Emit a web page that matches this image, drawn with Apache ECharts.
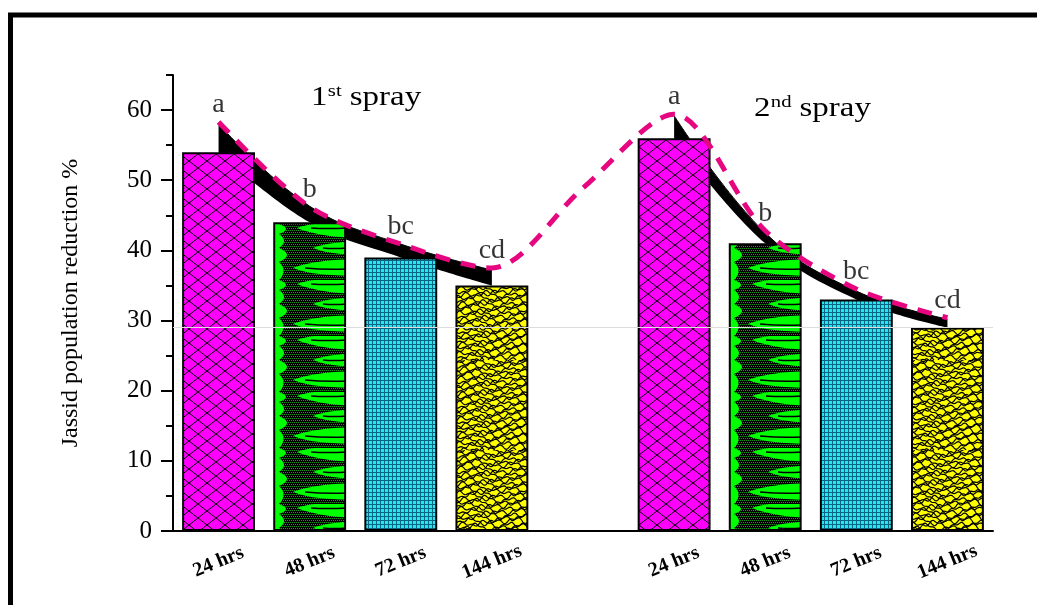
<!DOCTYPE html>
<html>
<head>
<meta charset="utf-8">
<script src="https://cdn.jsdelivr.net/npm/echarts@6/dist/echarts.min.js"></script>
<style>
  html, body { margin: 0; padding: 0; background: #fff; }
  #chart { width: 1037px; height: 605px; }
</style>
</head>
<body>
<div id="chart"></div>
<script>
// categories (empty slot separates the two sprays)
var categories = ['24 hrs', '48 hrs', '72 hrs', '144 hrs', '', '24 hrs', '48 hrs', '72 hrs', '144 hrs'];
// bar values, % reduction
var reduction = [54, 44, 39, 35, '-', 56, 41, 33, 29];
// top of the black band
var bandTop = [58, 46.3, 40.9, 37.2, '-', 59.2, 42.5, 34.2, 30.2];
// pink dashed trend line
var trend = [58.3, 46.2, 40.9, 37.5, 48.9, 59.4, 42.8, 34.5, 30.4];
// significance letters
var letters = ['a', 'b', 'bc', 'cd', '', 'a', 'b', 'bc', 'cd'];
var yTicks = [0, 10, 20, 30, 40, 50, 60];
var yMinor = [5, 15, 25, 35, 45, 55, 65];
var refLine = 29;

var serif = '"Liberation Serif", "Times New Roman", serif';

// ---- fill patterns ----
function makeCanvas(w, h) {
  var c = document.createElement('canvas');
  c.width = w; c.height = h;
  return c;
}
function crossHatch() {
  var c = makeCanvas(18, 14), g = c.getContext('2d');
  g.fillStyle = '#ff00ff'; g.fillRect(0, 0, 18, 14);
  g.strokeStyle = '#000'; g.lineWidth = 1;
  g.beginPath();
  g.moveTo(0, 0); g.lineTo(18, 14);
  g.moveTo(18, 0); g.lineTo(0, 14);
  g.stroke();
  return c;
}
function greenWaves() {
  var w = 91, h = 56;
  var c = makeCanvas(w, h), g = c.getContext('2d');
  g.fillStyle = '#000'; g.fillRect(0, 0, w, h);
  g.fillStyle = '#129a12';
  for (var x = 0; x < w; x += 2) {
    for (var y = 0; y < h; y += 2) g.fillRect(x + ((y / 2) % 2), y, 1, 1);
  }
  g.fillStyle = '#00ff00';
  // left edge strip with rounded bumps
  g.beginPath();
  g.moveTo(0, 0); g.lineTo(6, 0);
  g.quadraticCurveTo(20, 5, 6, 10);
  g.quadraticCurveTo(16, 17, 6, 24);
  g.quadraticCurveTo(22, 31, 6, 38);
  g.quadraticCurveTo(15, 47, 6, 56);
  g.lineTo(0, 56); g.closePath(); g.fill();
  // long tongues coming in from the right edge
  function tongue(y0, y1, tip, tipY) {
    g.beginPath();
    g.moveTo(w, y0);
    g.bezierCurveTo(tip + 35, y0, tip + 12, tipY - 5, tip, tipY);
    g.bezierCurveTo(tip + 14, tipY + 6, tip + 38, y1, w, y1);
    g.closePath(); g.fill();
  }
  tongue(-2, 14, 24, 4);
  tongue(17, 31, 40, 24);
  tongue(35, 52, 20, 44);
  g.strokeStyle = '#000'; g.lineWidth = 1.5;
  g.beginPath();
  g.moveTo(74, 4); g.quadraticCurveTo(54, 5, 38, 4);
  g.moveTo(74, 24); g.quadraticCurveTo(60, 25, 50, 24);
  g.moveTo(74, 45); g.quadraticCurveTo(52, 46, 32, 44);
  g.stroke();
  return c;
}
function cyanGrid() {
  var c = makeCanvas(4, 4), g = c.getContext('2d');
  g.fillStyle = '#24e8f0'; g.fillRect(0, 0, 4, 4);
  g.fillStyle = '#0c6482';
  g.fillRect(0, 0, 1, 4);
  g.fillRect(0, 0, 4, 1);
  return c;
}
function yellowMarble() {
  var w = 90, h = 90;
  var c = makeCanvas(w, h), g = c.getContext('2d');
  var k = 2 * Math.PI / w;
  g.fillStyle = '#ffff00'; g.fillRect(0, 0, w, h);
  g.strokeStyle = '#000'; g.lineWidth = 1.2;
  for (var i = -2; i < 32; i++) {
    var y0 = i * 3.1;
    var ph1 = (i * 2.39996) % (2 * Math.PI);
    var ph2 = (i * 1.61803 * 3) % (2 * Math.PI);
    g.beginPath();
    for (var x = 0; x <= w; x += 1) {
      var y = y0 + 2.2 * Math.sin(4 * k * x + ph1) +
              1.3 * Math.sin(9 * k * x + ph2) +
              1.5 * Math.sin(2 * k * x + ph1 * 0.5);
      if (x === 0) g.moveTo(x, y); else g.lineTo(x, y);
    }
    g.stroke();
  }
  return c;
}

var pMag = { image: crossHatch(), repeat: 'repeat' };
var pGreen = { image: greenWaves(), repeat: 'repeat' };
var pCyan = { image: cyanGrid(), repeat: 'repeat' };
var pYellow = { image: yellowMarble(), repeat: 'repeat' };
var fills = [pMag, pGreen, pCyan, pYellow, null, pMag, pGreen, pCyan, pYellow];

var bandDiff = reduction.map(function (v, i) {
  return v === '-' ? '-' : +(bandTop[i] - v).toFixed(2);
});

var chart = echarts.init(document.getElementById('chart'));

// "1st spray" / "2nd spray" with raised ordinal suffix
function sprayTitle(x, y, num, suffix) {
  var big = { fontFamily: serif, fontSize: 27, fill: '#000', verticalAlign: 'top' };
  var small = { fontFamily: serif, fontSize: 17, fill: '#000', verticalAlign: 'top' };
  var sufW = suffix === 'st' ? 11.5 : 17;
  return {
    type: 'group', x: x, y: y, scaleX: 1.22, z: 100,
    children: [
      { type: 'text', x: 0, y: 0, style: Object.assign({ text: num }, big) },
      { type: 'text', x: 13.8, y: -1, style: Object.assign({ text: suffix }, small) },
      { type: 'text', x: 13.8 + sufW + 6.5, y: 0, style: Object.assign({ text: 'spray' }, big) }
    ]
  };
}

var option = {
  backgroundColor: '#fff',
  animation: false,
  grid: [
    { left: 173, right: 44, top: 75, bottom: 74 },
    { left: 173, right: 44, top: 75, bottom: 74 }
  ],
  xAxis: [
    {
      type: 'category', gridIndex: 0, data: categories,
      axisLine: { lineStyle: { color: '#000', width: 2 } },
      axisTick: { alignWithLabel: true, length: 9, lineStyle: { color: '#000', width: 2 } },
      axisLabel: {
        interval: 0, rotate: 22, align: 'center', verticalAlign: 'middle', margin: 31,
        color: '#000', fontFamily: serif, fontWeight: 'bold', fontSize: 20
      }
    },
    {
      type: 'category', gridIndex: 1, data: categories,
      axisLine: { show: false },
      axisTick: { length: 5, lineStyle: { color: '#000', width: 2 } },
      axisLabel: { show: false }
    }
  ],
  yAxis: [
    {
      type: 'value', gridIndex: 0, min: 0, max: 65,
      name: 'Jassid population reduction %', nameLocation: 'middle', nameGap: 90,
      nameTextStyle: { color: '#000', fontFamily: serif, fontSize: 24 },
      axisLine: { show: true, lineStyle: { color: '#000', width: 2 } },
      axisTick: { show: true, customValues: yTicks, length: 12, lineStyle: { color: '#000', width: 2 } },
      axisLabel: { customValues: yTicks, margin: 21, color: '#000', fontFamily: serif, fontSize: 25 },
      splitLine: { show: false }
    },
    {
      type: 'value', gridIndex: 1, min: 0, max: 65, position: 'left',
      axisLine: { show: false },
      axisTick: { show: true, customValues: yMinor, length: 7, lineStyle: { color: '#000', width: 2 } },
      axisLabel: { show: false },
      splitLine: { show: false }
    }
  ],
  graphic: [
    {
      type: 'rect', z: 100, silent: true,
      shape: { x: 10.5, y: 15, width: 1200, height: 800 },
      style: { fill: null, stroke: '#000', lineWidth: 5 }
    },
    sprayTitle(311, 84, '1', 'st'),
    sprayTitle(754, 95, '2', 'nd')
  ],
  series: [
    {
      name: 'base', type: 'line', stack: 'band', data: reduction,
      smooth: 0.4, symbol: 'none', z: 1,
      lineStyle: { width: 0, opacity: 0 },
      markLine: {
        silent: true, symbol: 'none', label: { show: false },
        lineStyle: { color: '#dcdcdc', width: 1, type: 'solid' },
        data: [{ yAxis: refLine }]
      }
    },
    {
      name: 'band', type: 'line', stack: 'band', data: bandDiff,
      smooth: 0.4, symbol: 'none', z: 1,
      lineStyle: { color: '#000', width: 1 },
      areaStyle: { color: '#000', opacity: 1 }
    },
    {
      name: 'reduction', type: 'bar', data: reduction.map(function (v, i) {
        return { value: v, itemStyle: { color: fills[i] } };
      }),
      barWidth: '80%', z: 3,
      itemStyle: { borderColor: '#000', borderWidth: 2 }
    },
    {
      name: 'trend', type: 'line', data: trend, smooth: 0.3, symbol: 'none', z: 4,
      lineStyle: { color: '#e6067f', width: 5, type: [15, 11] }
    },
    {
      name: 'letters', type: 'scatter', data: trend, z: 5,
      symbolSize: 1, itemStyle: { color: 'rgba(0,0,0,0)' },
      label: {
        show: true, position: 'top', distance: 3,
        color: '#000', fontFamily: serif, fontSize: 28,
        formatter: function (p) { return letters[p.dataIndex]; }
      }
    }
  ]
};

chart.setOption(option);
</script>
</body>
</html>
